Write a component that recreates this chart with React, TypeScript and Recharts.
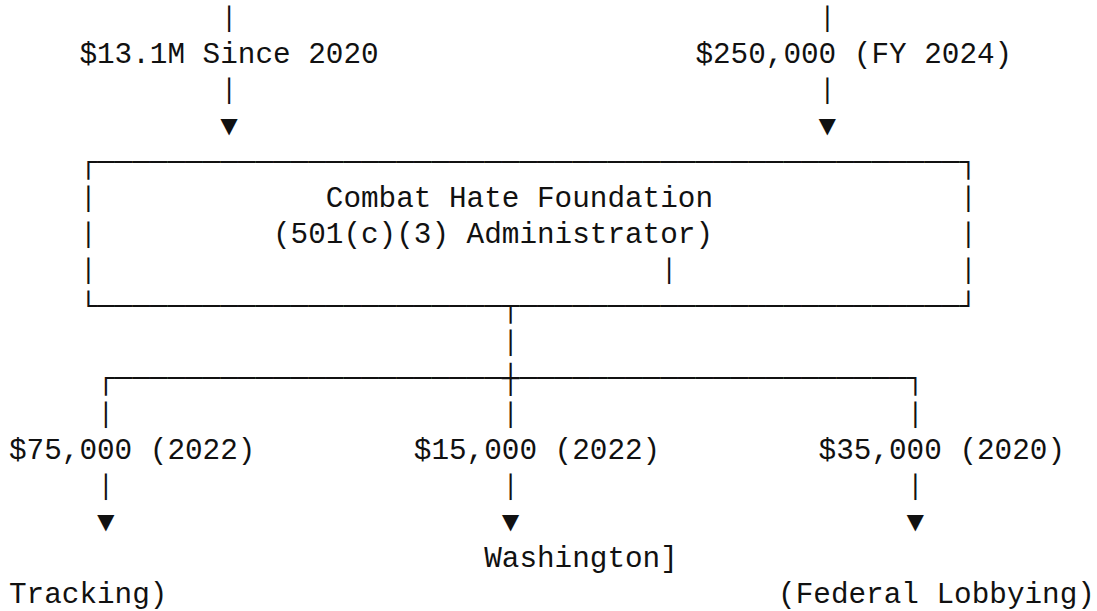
import { ScatterChart, Scatter, XAxis, YAxis } from 'recharts';

// money flowing in (top) and out (bottom)
const fundingSources = ['$13.1M Since 2020', '$250,000 (FY 2024)'];
const adminName = 'Combat Hate Foundation';
const adminType = '(501(c)(3) Administrator)';
const grants = ['$75,000 (2022)', '$15,000 (2022)', '$35,000 (2020)'];
const recipients = ['Tracking)', 'Washington]', '(Federal Lobbying)'];

const W = 1097;
const H = 611;
const CELL = 17.6; // monospace advance at 22pt
const LEFT = 9;
const LINE = 36;
const BASE0 = 26.5;

const FONT = '"Courier New", "Nimbus Mono PS", "Nimbus Mono L", FreeMono, Courier, "Liberation Mono", monospace';

interface Seg {
    col: number;
    row: number;
    text: string;
}

function buildSegments(): Seg[] {
    const segs: Seg[] = [];
    const put = (col: number, row: number, text: string) => segs.push({ col, row, text });

    const inCols = [12, 46];
    const sourceStart = [4, 39];
    inCols.forEach((c) => {
        put(c, 0, '│');
        put(c, 2, '│');
        put(c, 3, '▼');
    });
    fundingSources.forEach((s, i) => put(sourceStart[i], 1, s));

    put(4, 4, '┌' + '─'.repeat(49) + '┐');
    [5, 6, 7].forEach((r) => {
        put(4, r, '│');
        put(54, r, '│');
    });
    put(18, 5, adminName);
    put(15, 6, adminType);
    put(37, 7, '│');
    put(4, 8, '└' + '─'.repeat(23) + '┬' + '─'.repeat(25) + '┘');
    put(28, 9, '│');
    put(5, 10, '┌' + '─'.repeat(22) + '┼' + '─'.repeat(22) + '┐');

    const outCols = [5, 28, 51];
    const grantStart = [0, 23, 46];
    // last label is nudged left a little so its closing paren stays on the page
    const recipientStart = [0, 27, 43.7];
    const recipientRow = [16, 15, 16];
    outCols.forEach((c) => {
        put(c, 11, '│');
        put(c, 13, '│');
        put(c, 14, '▼');
    });
    grants.forEach((g, i) => put(grantStart[i], 12, g));
    recipients.forEach((r, i) => put(recipientStart[i], recipientRow[i], r));

    return segs;
}

const GlyphRun = (props: any) => {
    const { cx, cy, payload } = props;
    // lone bars are drawn a bit shorter so stacked rows show a gap, like the source
    const mid = cy - 8;
    const t = payload.text === '│' ? `translate(0 ${mid}) scale(1 0.8) translate(0 ${-mid})` : undefined;
    return (
        <text x={cx} y={cy} transform={t} fontFamily={FONT} fontSize={29.333} fill="#111" style={{ whiteSpace: 'pre' }}>
            {payload.text}
        </text>
    );
};

export default function App() {
    const data = buildSegments();

    return (
        <div style={{ position: 'absolute', left: 0, top: 0, width: W, height: H, background: '#fff' }}>
            <ScatterChart width={W} height={H} margin={{ top: 0, right: 0, bottom: 0, left: 0 }}>
                <XAxis
                    type="number"
                    dataKey="col"
                    domain={[-LEFT / CELL, (W - LEFT) / CELL]}
                    allowDataOverflow
                    hide
                />
                <YAxis
                    type="number"
                    dataKey="row"
                    domain={[-BASE0 / LINE, (H - BASE0) / LINE]}
                    allowDataOverflow
                    reversed
                    hide
                />
                <Scatter data={data} shape={<GlyphRun />} isAnimationActive={false} />
            </ScatterChart>
        </div>
    );
}
